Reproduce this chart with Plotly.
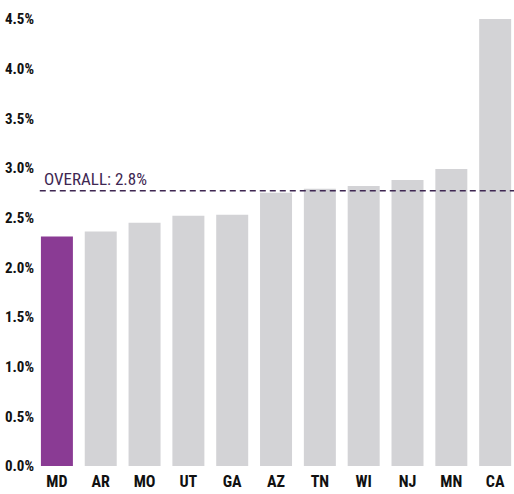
import plotly.graph_objects as go

states = ["MD", "AR", "MO", "UT", "GA", "AZ", "TN", "WI", "NJ", "MN", "CA"]
values = [2.31, 2.36, 2.45, 2.52, 2.53, 2.75, 2.79, 2.82, 2.88, 2.99, 4.5]
highlight = "MD"
overall = 2.77
overall_label = "OVERALL: 2.8%"
y_ticks = [0, 0.5, 1.0, 1.5, 2.0, 2.5, 3.0, 3.5, 4.0, 4.5]
y_tick_text = [f"{v:.1f}%" for v in y_ticks]

colors = ["#8a3b94" if s == highlight else "#d3d3d6" for s in states]

font_fam = "Liberation Sans Narrow, Roboto Condensed, Roboto, Arial"

fig = go.Figure(go.Bar(x=states, y=values, marker=dict(color=colors, line=dict(width=0))))

fig.add_shape(type="line", xref="paper", yref="y", x0=0.01, x1=1, y0=overall, y1=overall,
              line=dict(color="#3e2752", width=1.5, dash="6px,4px"))
fig.add_annotation(xref="paper", yref="y", x=0.015, y=overall, text=overall_label,
                   showarrow=False, xanchor="left", yanchor="bottom", yshift=0,
                   font=dict(family=font_fam, size=17, color="#3e2752"))

fig.update_layout(
    width=514, height=494,
    margin=dict(l=35, r=0, t=19, b=28),
    plot_bgcolor="white", paper_bgcolor="white",
    bargap=0.27, showlegend=False,
    font=dict(family=font_fam, size=15, color="#111111"),
)
fig.update_xaxes(range=[-0.5, 10.43], showgrid=False, showline=False, ticks="",
                 automargin=False, ticklabelstandoff=4,
                 tickfont=dict(family=font_fam, size=16, color="#111111", weight="bold"))
fig.update_yaxes(range=[0, 4.5], tickvals=y_ticks, ticktext=y_tick_text, showgrid=False,
                 zeroline=False, showline=False, ticks="", ticklabelstandoff=0,
                 automargin=False,
                 tickfont=dict(family=font_fam, size=15, color="#111111", weight="bold"))

fig.write_html("out.html", config={"displayModeBar": False},
               post_script="document.body.style.margin='0';")
